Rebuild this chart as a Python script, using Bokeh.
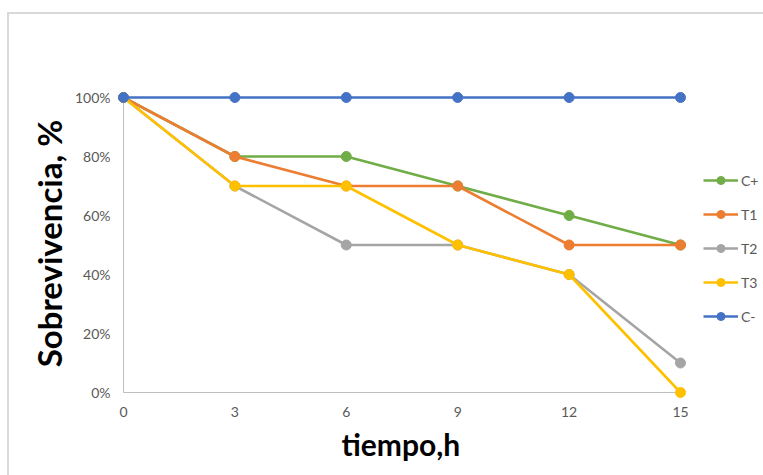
from bokeh.plotting import figure
from bokeh.models import (Range1d, FixedTicker, PrintfTickFormatter, Legend, LegendItem, Title)
from bokeh.embed import file_html
from bokeh.resources import INLINE

# ---- data ----
tiempo = [0, 3, 6, 9, 12, 15]
c_plus = [100, 80, 80, 70, 60, 50]
t1 = [100, 80, 70, 70, 50, 50]
t2 = [100, 70, 50, 50, 40, 10]
t3 = [100, 70, 70, 50, 40, 0]
c_minus = [100, 100, 100, 100, 100, 100]

series_names = ["C+", "T1", "T2", "T3", "C-"]
series_values = [c_plus, t1, t2, t3, c_minus]
series_colors = ["#70AD47", "#ED7D31", "#A5A5A5", "#FFC000", "#4472C4"]

x_ticks = [0, 3, 6, 9, 12, 15]
y_ticks = [0, 20, 40, 60, 80, 100]

FONT = "Lato"
TICK_COLOR = "#595959"

p = figure(width=763, height=475, output_backend="svg", toolbar_location=None,
           x_range=Range1d(-0.242, 17.235), y_range=Range1d(-2.71, 103.73),
           min_border_left=114, min_border_right=0, min_border_top=86, min_border_bottom=75)

p.outline_line_color = None
p.grid.grid_line_color = None
p.background_fill_color = "white"
p.border_fill_color = None
p.styles = {
    "background-color": "white",
    "background-image": "linear-gradient(#D9D9D9, #D9D9D9), linear-gradient(#D9D9D9, #D9D9D9)",
    "background-size": "760px 2px, 2px 470px",
    "background-position": "7px 12px, 7px 12px",
    "background-repeat": "no-repeat",
}

# axis lines drawn from the data extent
p.line(x=[tiempo[0], tiempo[-1]], y=[y_ticks[0], y_ticks[0]], line_color="#BFBFBF", line_width=1)
p.line(x=[tiempo[0], tiempo[0]], y=[y_ticks[0], y_ticks[-1]], line_color="#BFBFBF", line_width=1)

items = []
for name, vals, col in zip(series_names, series_values, series_colors):
    lr = p.line(tiempo, vals, line_color=col, line_width=2.6)
    sr = p.scatter(tiempo, vals, size=10, fill_color=col, line_color=col)
    items.append(LegendItem(label=name, renderers=[lr, sr]))

for ax in (p.xaxis[0], p.yaxis[0]):
    ax.axis_line_color = None
    ax.major_tick_line_color = None
    ax.minor_tick_line_color = None
    ax.major_tick_out = 0
    ax.major_tick_in = 0
    ax.major_label_text_font = FONT
    ax.major_label_text_font_size = "14px"
    ax.major_label_text_color = TICK_COLOR
    ax.axis_label_text_font = FONT
    ax.axis_label_text_font_style = "bold"
    ax.axis_label_text_color = "black"

p.xaxis.ticker = FixedTicker(ticks=x_ticks)
p.yaxis.ticker = FixedTicker(ticks=y_ticks)
p.yaxis.formatter = PrintfTickFormatter(format="%d%%")
p.xaxis.major_label_standoff = 6
p.yaxis.major_label_standoff = 4

p.yaxis.axis_label = "Sobrevivencia, %"
p.yaxis.axis_label_text_font_size = "33px"
p.yaxis.axis_label_standoff = 3

# x-axis title centred under the 0..15 span (frame extends to hold the legend)
xtitle = Title(text="tiempo,h", align="left", offset=227, standoff=8,
               text_font=FONT, text_font_style="bold", text_font_size="30px",
               text_color="black")
p.add_layout(xtitle, "below")

legend = Legend(items=items, location=(589, 74), orientation="vertical",
                glyph_width=35, glyph_height=20, label_height=20, spacing=14,
                label_standoff=3, padding=5, margin=0,
                label_text_font=FONT, label_text_font_size="14px",
                label_text_color=TICK_COLOR,
                background_fill_alpha=0, border_line_color=None)
p.add_layout(legend, "center")

open("out.html", "w").write(file_html(p, INLINE))
